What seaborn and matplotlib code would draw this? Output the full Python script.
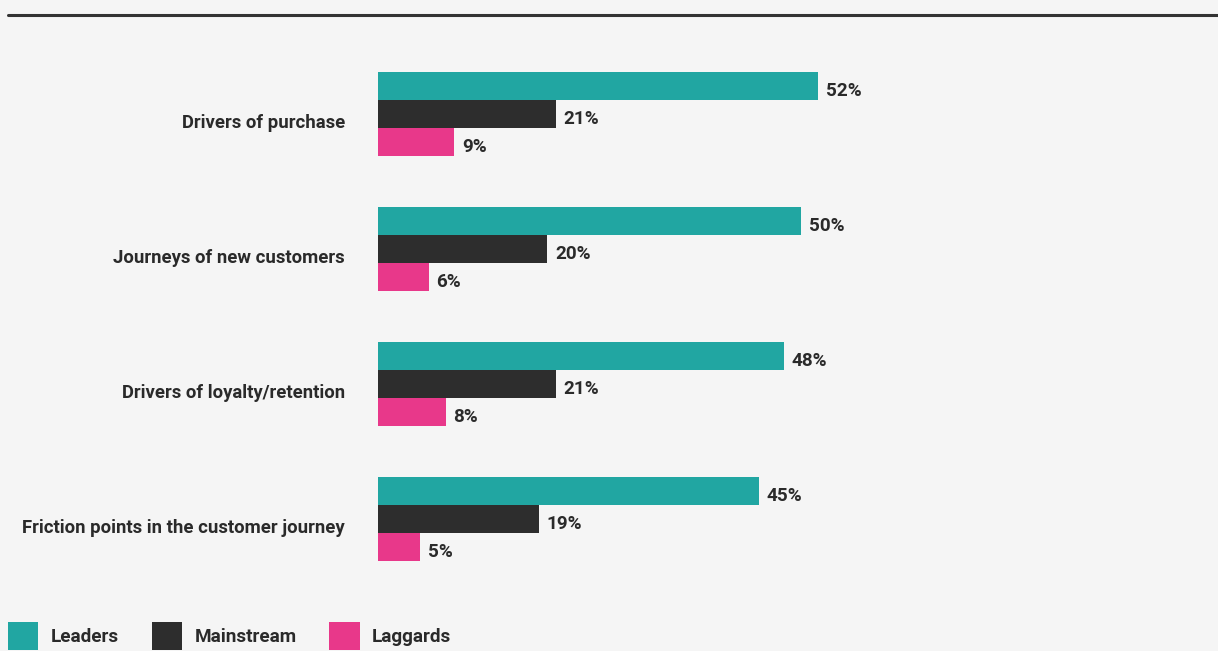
import pandas as pd
import matplotlib.pyplot as plt
import matplotlib.transforms as mtransforms
import seaborn as sns
from matplotlib.lines import Line2D
from matplotlib.patches import Patch

# ------------------- Data -------------------
categories = ['Drivers of purchase', 'Journeys of new customers',
              'Drivers of loyalty/retention', 'Friction points in the customer journey']
groups = ['Leaders', 'Mainstream', 'Laggards']
leaders = [52, 50, 48, 45]
mainstream = [21, 20, 21, 19]
laggards = [9, 6, 8, 5]

colors = ['#21a6a2', '#2d2d2d', '#e8388a']
bg = '#f5f5f5'
text_color = '#2a2a2a'

df = pd.DataFrame({
    'category': categories * 3,
    'group': [g for g in groups for _ in categories],
    'value': leaders + mainstream + laggards,
})

sns.set_theme(style='white')
plt.rcParams['font.family'] = ['Roboto', 'DejaVu Sans']

fig = plt.figure(figsize=(12.18, 6.51), dpi=100, facecolor=bg)
ax = fig.add_axes([378 / 1218, 1 - 586.5 / 651, 804 / 1218, 540 / 651])
ax.set_facecolor(bg)

sns.barplot(data=df, y='category', x='value', hue='group', hue_order=groups,
            order=categories, palette=colors, width=0.622, orient='h',
            legend=False, saturation=1, ax=ax, linewidth=0)

# value labels sit a few px below bar centre in the original
for cont in ax.containers:
    labels = ax.bar_label(cont, fmt='{:.0f}%', padding=5.5, fontsize=13.6,
                          fontweight='bold', color=text_color)
    for t in labels:
        t.xyann = (5.5, -3.6)

ax.set_xlim(0, 95)
ax.set_ylim(3.5, -0.5)
ax.set_xlabel('')
ax.set_ylabel('')
ax.set_xticks([])
ax.tick_params(axis='y', length=0, pad=23.8)
down_lab = mtransforms.ScaledTranslation(0, -7 / 100, fig.dpi_scale_trans)
for lab in ax.get_yticklabels():
    lab.set_fontweight('bold')
    lab.set_fontsize(13.3)
    lab.set_color(text_color)
    lab.set_transform(lab.get_transform() + down_lab)
sns.despine(ax=ax, left=True, bottom=True)

# top rule
fig.add_artist(Line2D([8 / 1218, 1], [1 - 15 / 651] * 2, color='#333333', lw=2.2))

# legend
handles = [Patch(facecolor=c, edgecolor='none', label=g) for c, g in zip(colors, groups)]
leg = fig.legend(handles=handles, loc='lower left', bbox_to_anchor=(-7 / 1218, -14 / 651),
                 ncol=3, frameon=False, fontsize=13.6, handlelength=1.6, handleheight=1.9,
                 handletextpad=0.65, columnspacing=1.75, borderpad=0.3)
for t in leg.get_texts():
    t.set_fontweight('bold')
    t.set_color(text_color)

fig.savefig('out.png', dpi=100, facecolor=bg)
